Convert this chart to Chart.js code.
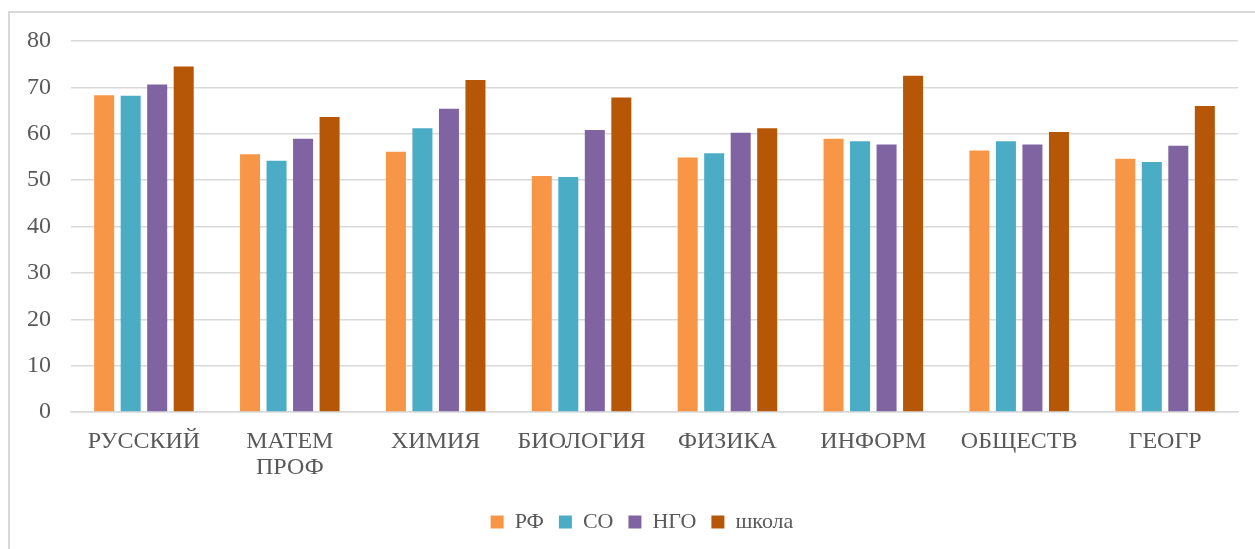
<!DOCTYPE html>
<html>
<head>
<meta charset="utf-8">
<script src="https://cdn.jsdelivr.net/npm/chart.js@4.4.0/dist/chart.umd.min.js"></script>
<style>
  html, body { margin: 0; padding: 0; background: #fff; overflow: hidden; }
  #frame { position: absolute; left: 8px; top: 11px; width: 1400px; height: 700px;
           border-top: 2px solid #d9d9d9; border-left: 2px solid #d9d9d9; }
  #wrap { position: absolute; left: 0; top: 0; width: 1255px; height: 549px; }
</style>
</head>
<body>
<div id="frame"></div>
<div id="wrap"><canvas id="mycanvas"></canvas></div>
<script>
var subjects = [["РУССКИЙ"], ["МАТЕМ", "ПРОФ"], ["ХИМИЯ"], ["БИОЛОГИЯ"], ["ФИЗИКА"], ["ИНФОРМ"], ["ОБЩЕСТВ"], ["ГЕОГР"]];
var rf     = [68.3, 55.6, 56.1, 50.9, 54.9, 58.9, 56.4, 54.6];
var so     = [68.2, 54.2, 61.2, 50.7, 55.8, 58.4, 58.4, 53.9];
var ngo    = [70.6, 58.9, 65.4, 60.8, 60.2, 57.7, 57.7, 57.4];
var school = [74.5, 63.6, 71.6, 67.8, 61.2, 72.5, 60.4, 66.0];
var yTicks = [0, 10, 20, 30, 40, 50, 60, 70, 80];

var font = "'Times New Roman', 'Liberation Serif', serif";
Chart.defaults.font.family = font;
Chart.defaults.color = '#595959';

function ds(label, data, color) {
	return {
		label: label,
		data: data,
		backgroundColor: color,
		borderWidth: 0,
		categoryPercentage: 0.727,
		barPercentage: 0.755
	};
}

var chartdata = {
	labels: subjects,
	datasets: [
		ds('РФ', rf, '#F79646'),
		ds('СО', so, '#4BACC6'),
		ds('НГО', ngo, '#8064A2'),
		ds('школа', school, '#B65708')
	]
};

var ctx = document.getElementById('mycanvas');

var barGraph = new Chart(ctx, {
	type: 'bar',
	data: chartdata,
	options: {
		responsive: true,
		maintainAspectRatio: false,
		animation: false,
		layout: { padding: { left: 46, right: 17, top: 41, bottom: 6 } },
		plugins: {
			tooltip: { enabled: false },
			legend: {
				position: 'bottom',
				labels: {
					boxWidth: 13,
					boxHeight: 13,
					padding: 15,
					font: { size: 22, family: font },
					color: '#595959'
				}
			}
		},
		scales: {
			x: {
				grid: { display: false, drawTicks: false },
				border: { display: true, color: '#d9d9d9', width: 1.5 },
				ticks: {
					padding: 17,
					maxRotation: 0,
					autoSkip: false,
					font: { size: 24, family: font, lineHeight: 1.07 },
					color: '#595959'
				},
				afterFit: function(scale) { scale.height = 84; }
			},
			y: {
				min: 0,
				max: 80,
				afterBuildTicks: function(scale) {
					scale.ticks = yTicks.map(function(v) { return { value: v }; });
				},
				grid: { color: '#d9d9d9', lineWidth: 1.5, drawTicks: false },
				border: { display: false },
				ticks: {
					mirror: true,
					crossAlign: 'far',
					padding: -44,
					font: { size: 24, family: font },
					color: '#595959'
				},
				afterFit: function(scale) { scale.width = 25; }
			}
		}
	}
});
</script>
</body>
</html>
